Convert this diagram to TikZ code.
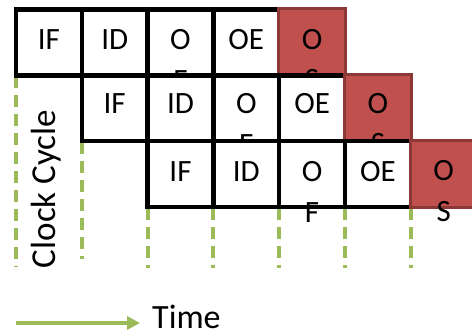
\documentclass[tikz,border=0pt]{standalone}
\usepackage{fontspec}
\setmainfont{Carlito}
\usetikzlibrary{arrows.meta,calc}
\definecolor{cellred}{HTML}{C0504D}
\definecolor{cellredborder}{HTML}{8C3836}
\definecolor{ggreen}{HTML}{9BBB59}
\begin{document}
\begin{tikzpicture}[x=1pt,y=-1pt,
  cell/.style={rectangle,draw=black,line width=4.5pt,fill=white,minimum width=65.8pt,minimum height=65.8pt,inner sep=0pt,outer sep=0pt},
  redcell/.style={rectangle,draw=cellredborder,line width=3pt,fill=cellred,minimum width=67pt,minimum height=67pt,inner sep=0pt,outer sep=0pt},
  lbl/.style={font=\fontsize{31}{33}\selectfont,text=black,anchor=base,inner sep=0pt},
  gdash/.style={draw=ggreen,line width=4pt,dash pattern=on 12pt off 7pt},
  garrow/.style={draw=ggreen,line width=4pt,-{Triangle[length=13pt,width=13pt]}}
]
\useasboundingbox (0,0) rectangle (472,336);
\def\px#1{16+65.8*#1+32.9}
\def\py#1{9.5+65.8*#1+32.9}
% coordinates for grid cells (centers)
\coordinate (p10) at ({\px{0}},{\py{0}});
\coordinate (p11) at ({\px{1}},{\py{0}});
\coordinate (p12) at ({\px{2}},{\py{0}});
\coordinate (p13) at ({\px{3}},{\py{0}});
\coordinate (p14) at ({\px{4}},{\py{0}});
\coordinate (p21) at ({\px{1}},{\py{1}});
\coordinate (p22) at ({\px{2}},{\py{1}});
\coordinate (p23) at ({\px{3}},{\py{1}});
\coordinate (p24) at ({\px{4}},{\py{1}});
\coordinate (p25) at ({\px{5}},{\py{1}});
\coordinate (p32) at ({\px{2}},{\py{2}});
\coordinate (p33) at ({\px{3}},{\py{2}});
\coordinate (p34) at ({\px{4}},{\py{2}});
\coordinate (p35) at ({\px{5}},{\py{2}});
\coordinate (p36) at ({\px{6}},{\py{2}});

% green dashed lines (behind)
\draw[gdash] ($(p10)+(-32.9,34)$) -- ++(0,191);
\draw[gdash] ($(p21)+(-32.9,34)$) -- ++(0,117);
\foreach \c in {p32,p33,p34,p35,p36}{
  \draw[gdash] ($(\c)+(-32.9,34)$) -- ++(0,60);
}
\draw[gdash] ($(p36)+(32.9,34)$) -- ++(0,60);

% row 1
\node[cell] (c10) at (p10) {};
\node[lbl] (t10) at ([yshift=-40.5pt]c10.north) {IF};
\node[cell] (c11) at (p11) {};
\node[lbl] (t11) at ([yshift=-40.5pt]c11.north) {ID};
\node[cell] (c12) at (p12) {};
\node[lbl] (t12) at ([yshift=-40.5pt]c12.north) {O};
\node[lbl] (u12) at ([yshift=-81pt]c12.north) {F};
\node[cell] (c13) at (p13) {};
\node[lbl] (t13) at ([yshift=-40.5pt]c13.north) {OE};
\node[redcell] (c14) at (p14) {};
\node[lbl] (t14) at ([yshift=-40.5pt]c14.north) {O};
\node[lbl] (u14) at ([yshift=-81pt]c14.north) {S};

% row 2
\node[cell] (c21) at (p21) {};
\node[lbl] (t21) at ([yshift=-38.5pt]c21.north) {IF};
\node[cell] (c22) at (p22) {};
\node[lbl] (t22) at ([yshift=-38.5pt]c22.north) {ID};
\node[cell] (c23) at (p23) {};
\node[lbl] (t23) at ([yshift=-38.5pt]c23.north) {O};
\node[lbl] (u23) at ([yshift=-79pt]c23.north) {F};
\node[cell] (c24) at (p24) {};
\node[lbl] (t24) at ([yshift=-38.5pt]c24.north) {OE};
\node[redcell] (c25) at (p25) {};
\node[lbl] (t25) at ([yshift=-38.5pt]c25.north) {O};
\node[lbl] (u25) at ([yshift=-79pt]c25.north) {S};

% row 3
\node[cell] (c32) at (p32) {};
\node[lbl] (t32) at ([yshift=-40pt]c32.north) {IF};
\node[cell] (c33) at (p33) {};
\node[lbl] (t33) at ([yshift=-40pt]c33.north) {ID};
\node[cell] (c34) at (p34) {};
\node[lbl] (t34) at ([yshift=-40pt]c34.north) {O};
\node[lbl] (u34) at ([yshift=-81pt]c34.north) {F};
\node[cell] (c35) at (p35) {};
\node[lbl] (t35) at ([yshift=-40pt]c35.north) {OE};
\node[redcell] (c36) at (p36) {};
\node[lbl] (t36) at ([yshift=-40pt]c36.north) {O};
\node[lbl] (u36) at ([yshift=-81pt]c36.north) {S};

% clock cycle label
\node[rotate=90,anchor=base,inner sep=0pt,font=\fontsize{35}{40}\selectfont] (clk) at (55,189) {Clock Cycle};

% time arrow
\node[anchor=base west,inner sep=0pt,font=\fontsize{34}{40}\selectfont] (time) at (152,329) {Time};
\coordinate (astart) at (16,323);
\draw[garrow] (astart) -- ([xshift=-12pt]astart -| time.west);
\end{tikzpicture}
\end{document}
